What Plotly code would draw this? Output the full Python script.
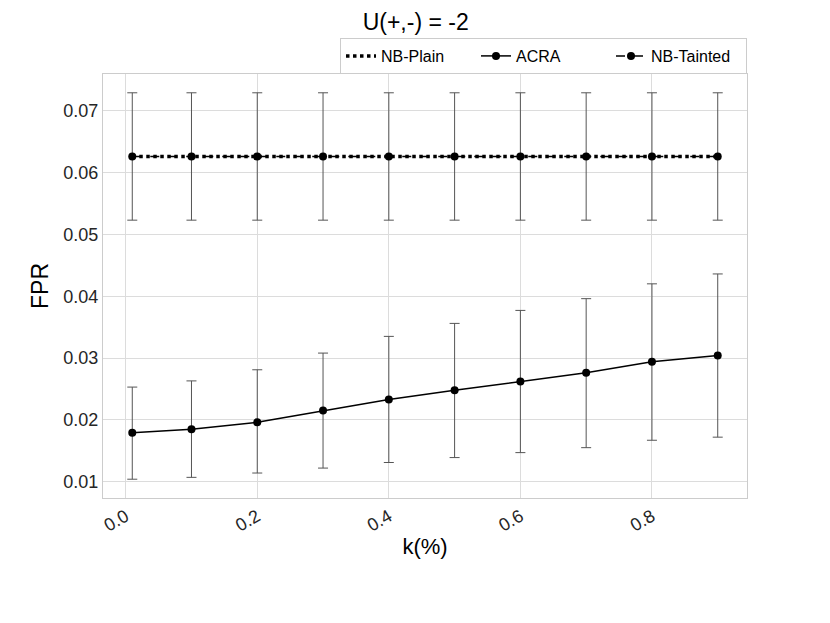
import plotly.graph_objects as go

# k(%) values
k = [0.01, 0.1, 0.2, 0.3, 0.4, 0.5, 0.6, 0.7, 0.8, 0.9]

# NB-Plain / NB-Tainted (identical FPR)
nb_plain = [0.0626] * 10
nb_tainted = [0.0626] * 10
nb_err = [0.0103] * 10

# ACRA mean and error bounds
acra = [0.0179, 0.0185, 0.0196, 0.0215, 0.0233, 0.0248, 0.0262, 0.0276, 0.0294, 0.0304]
acra_hi = [0.0253, 0.0263, 0.0281, 0.0308, 0.0335, 0.0356, 0.0377, 0.0396, 0.0420, 0.0436]
acra_lo = [0.0104, 0.0107, 0.0114, 0.0122, 0.0131, 0.0139, 0.0147, 0.0155, 0.0167, 0.0172]

acra_plus = [h - m for h, m in zip(acra_hi, acra)]
acra_minus = [m - l for m, l in zip(acra, acra_lo)]

err_style = dict(color="#555555", thickness=1, width=5)

fig = go.Figure()

fig.add_trace(go.Scatter(
    x=k, y=nb_plain, name="NB-Plain", mode="lines",
    line=dict(color="black", width=3.5, dash="dot"),
))
fig.add_trace(go.Scatter(
    x=k, y=acra, name="ACRA", mode="lines+markers",
    line=dict(color="black", width=1.5),
    marker=dict(color="black", size=8),
    error_y=dict(type="data", symmetric=False, array=acra_plus,
                 arrayminus=acra_minus, visible=True, **err_style),
))
fig.add_trace(go.Scatter(
    x=k, y=nb_tainted, name="NB-Tainted", mode="lines+markers",
    line=dict(color="black", width=1.5, dash="dash"),
    marker=dict(color="black", size=8),
    error_y=dict(type="data", array=nb_err, visible=True, **err_style),
))

# page body adds an 8px offset, so the figure is drawn 8px smaller
fig.update_layout(
    width=822, height=615,
    margin=dict(l=95, r=83, t=66, b=125, autoexpand=False),
    paper_bgcolor="white", plot_bgcolor="white",
    font=dict(family="Arial, Liberation Sans, sans-serif", color="#262626"),
    title=dict(text="U(+,-) = -2", x=0.496, xanchor="center",
               y=1 - 14 / 615, yanchor="middle",
               font=dict(size=23, color="black")),
    legend=dict(orientation="h", x=1.0, xanchor="right", y=1.0, yanchor="bottom",
                traceorder="normal", bgcolor="white", bordercolor="#cccccc",
                borderwidth=1, font=dict(size=16, color="black"),
                entrywidth=90, entrywidthmode="pixels"),
    showlegend=True,
)

fig.update_xaxes(
    range=[-0.0345, 0.9445], tickvals=[0.0, 0.2, 0.4, 0.6, 0.8],
    tickformat=".1f", tickangle=-30, tickfont=dict(size=18, color="#262626"),
    showgrid=True, gridcolor="#dcdcdc", gridwidth=1, zeroline=False,
    showline=True, linecolor="#cccccc", linewidth=1, mirror=True,
    automargin=False,
    title=dict(text="k(%)", font=dict(size=22, color="black"), standoff=4),
)
fig.update_yaxes(
    range=[0.00736, 0.07594], tickvals=[0.01, 0.02, 0.03, 0.04, 0.05, 0.06, 0.07],
    tickformat=".2f", tickfont=dict(size=18, color="#262626"),
    showgrid=True, gridcolor="#dcdcdc", gridwidth=1, zeroline=False,
    showline=True, linecolor="#cccccc", linewidth=1, mirror=True,
    automargin=False,
    title=dict(text="FPR", font=dict(size=23, color="black"), standoff=8),
)

fig.write_html("out.html")
